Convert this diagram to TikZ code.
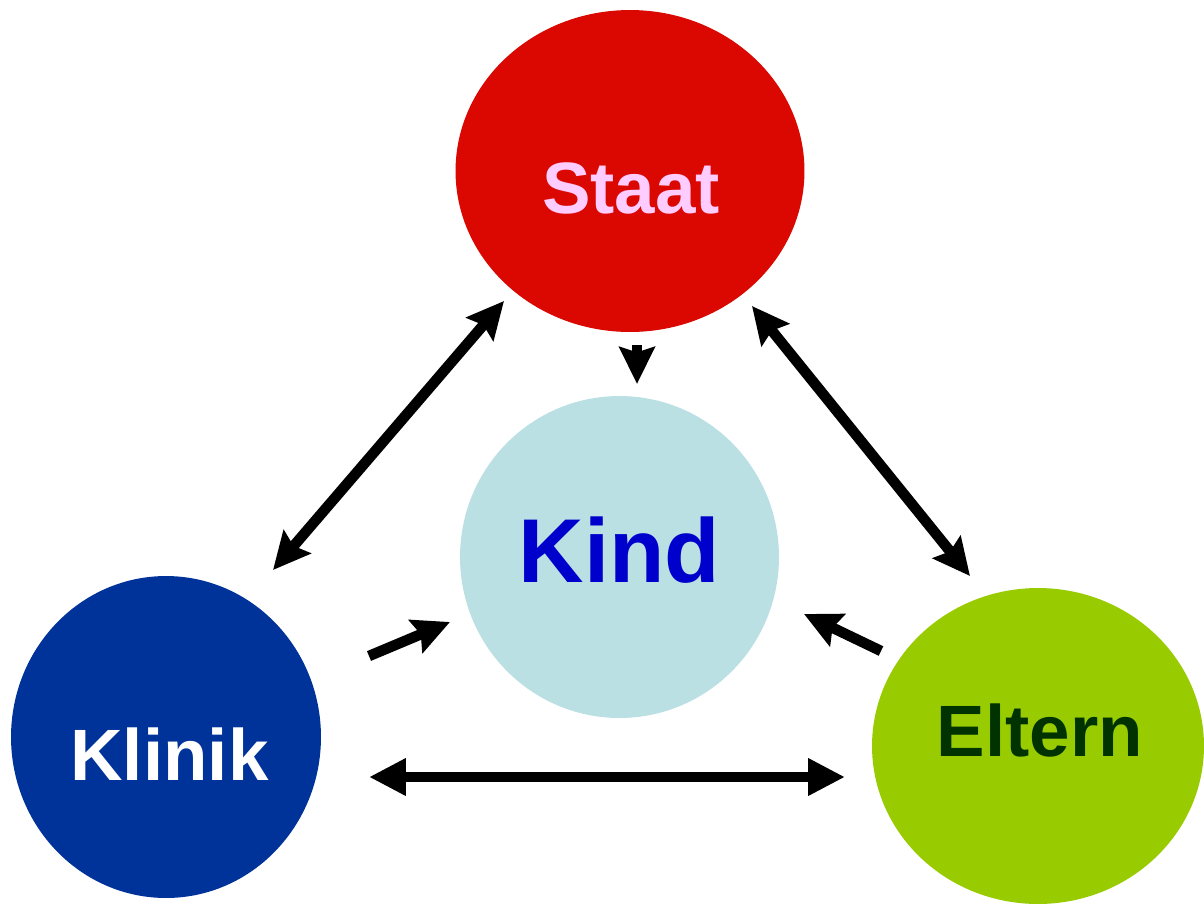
\documentclass[tikz,border=0pt]{standalone}
\usepackage{fontspec}
\setmainfont{Liberation Sans}
\usetikzlibrary{shapes.geometric,arrows.meta}
\definecolor{staatred}{RGB}{218,8,0}
\definecolor{staatpink}{RGB}{255,204,255}
\definecolor{kindfill}{RGB}{187,224,227}
\definecolor{kindblue}{RGB}{0,0,204}
\definecolor{klinikblue}{RGB}{0,51,153}
\definecolor{elterngreen}{RGB}{153,204,0}
\definecolor{elterndark}{RGB}{0,51,0}
\tikzset{
  blob/.style={ellipse, draw=none, inner sep=0pt},
  lbl/.style={anchor=base, inner sep=0pt, font=\bfseries\fontsize{41.4}{46}\selectfont},
  biarrow/.style={line width=6pt, {Stealth[length=21pt,width=20pt,inset=3pt]}-{Stealth[length=21pt,width=20pt,inset=3pt]}},
  flatbiarrow/.style={line width=6pt, {Triangle[length=21pt,width=20pt]}-{Triangle[length=21pt,width=20pt]}},
  onearrow/.style={line width=6pt, -{Stealth[length=21pt,width=20pt,inset=3pt]}}
}
\begin{document}
\begin{tikzpicture}[x=0.02cm,y=-0.02cm]
\useasboundingbox[fill=white] (0,0) rectangle (1204,904);
% ellipses
\node[blob, fill=staatred, minimum width=6.98cm, minimum height=6.44cm] (staat) at (630,171) {};
\node[blob, fill=kindfill, minimum width=6.38cm, minimum height=6.44cm] (kind) at (619.5,557) {};
\node[blob, fill=klinikblue, minimum width=6.2cm, minimum height=6.44cm] (klinik) at (166,737) {};
\node[blob, fill=elterngreen, minimum width=6.64cm, minimum height=6.32cm] (eltern) at (1038,746) {};
% labels
\node[lbl, text=staatpink] (staatlbl) at (631,213) {Staat};
\node[lbl, text=kindblue, font=\bfseries\fontsize{51.6}{58}\selectfont] (kindlbl) at (619.5,582) {Kind};
\node[lbl, text=white] (kliniklbl) at (169.5,780) {Klinik};
\node[lbl, text=elterndark] (elternlbl) at (1040,756) {Eltern};
% arrow end points
\coordinate (sk1) at (504,301);
\coordinate (sk2) at (273,570);
\coordinate (se1) at (752,306);
\coordinate (se2) at (970,576);
\coordinate (ke1) at (369,777);
\coordinate (ke2) at (845,777);
\coordinate (sd1) at (637,345);
\coordinate (sd2) at (637,384);
\coordinate (kd1) at (369,656);
\coordinate (kd2) at (450,622);
\coordinate (ed1) at (881,651);
\coordinate (ed2) at (804,614);
% connectors
\draw[biarrow] (sk1) -- (sk2);
\draw[biarrow] (se1) -- (se2);
\draw[flatbiarrow] (ke1) -- (ke2);
\draw[onearrow] (sd1) -- (sd2);
\draw[onearrow] (kd1) -- (kd2);
\draw[onearrow] (ed1) -- (ed2);
\end{tikzpicture}
\end{document}
